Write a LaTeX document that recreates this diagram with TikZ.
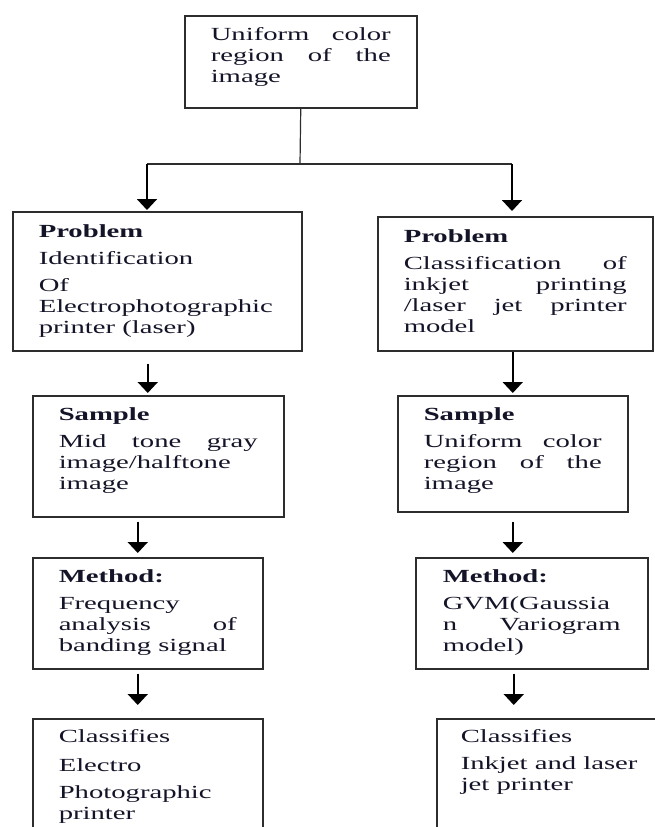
\documentclass[tikz,border=0pt]{standalone}
\usepackage{fontspec}
\setmainfont[FakeStretch=1.55]{Liberation Serif}
\usepackage{tikz}
\usetikzlibrary{arrows.meta}
\definecolor{ink}{RGB}{20,20,40}
\definecolor{edge}{RGB}{45,45,45}
\tikzset{box/.style = {draw=edge, line width=1.5pt, anchor=north west, inner ysep=0pt, align=justify, text=ink, font=\fontsize{18.5}{21}\selectfont}}
\tikzset{arr/.style = {line width=2pt, -{Triangle[width=20pt,length=11pt]}}}
\tikzset{link/.style = {draw=edge, line width=1.2pt}}

\begin{document}
\begin{tikzpicture}[x=1pt,y=-1pt]
        \useasboundingbox (0,0) rectangle (654,827);
        \node [box, inner xsep=26pt, text width=180pt, text height=25pt, text depth=67pt] (top) at (184,15) {Uniform color\linebreak region of the\linebreak image};
        \node [box, inner xsep=26pt, text width=237pt, text height=26pt, text depth=113pt] (leftProb) at (12,211) {\textbf{Problem}\\[6pt] Identification\\[6pt] Of\\ Electrophotographic\\ printer (laser)};
        \node [box, inner xsep=26pt, text width=223pt, text height=26pt, text depth=108pt] (rightProb) at (377,216) {\textbf{Problem}\\[6pt] Classification of\linebreak inkjet printing\linebreak /laser jet printer\linebreak model};
        \node [box, inner xsep=26pt, text width=199pt, text height=25pt, text depth=96pt] (leftSamp) at (32,395) {\textbf{Sample}\\[6pt] Mid tone gray\linebreak image/halftone\\ image};
        \node [box, inner xsep=26pt, text width=178pt, text height=25pt, text depth=91pt] (rightSamp) at (397,395) {\textbf{Sample}\\[6pt] Uniform color\linebreak region of the\linebreak image};
        \node [box, inner xsep=26pt, text width=178pt, text height=25pt, text depth=86pt] (leftMeth) at (32,557) {\textbf{Method:}\\[6pt] Frequency\\ analysis of\linebreak banding signal};
        \node [box, inner xsep=27pt, text width=178pt, text height=25pt, text depth=86pt] (rightMeth) at (415,557) {\textbf{Method:}\\[6pt] GVM(Gaussia\\ n Variogram\linebreak model)};
        \node [box, inner xsep=26pt, text width=178pt, text height=24pt, text depth=126pt] (leftCls) at (32,718) {Classifies\\[8pt] Electro\\[6pt] Photographic\\ printer};
        \node [box, inner xsep=24pt, text width=192pt, text height=24pt, text depth=126pt] (rightCls) at (436,718) {Classifies\\[6pt] Inkjet and laser\\ jet printer};
        % split below the top box
        \coordinate (split) at (300,164);
        \coordinate (lsplit) at (147,164);
        \coordinate (rsplit) at (512,164);
        \draw [link] (top.south) -- (split);
        \draw [link] (lsplit) -- (rsplit);
        \draw [arr, shorten >=1pt] (lsplit) -- (lsplit |- leftProb.north);
        \draw [arr, shorten >=5pt] (rsplit) -- (rsplit |- rightProb.north);
        % left column
        \draw [arr, shorten <=12pt, shorten >=2pt] ([xshift=-9.5pt]leftProb.south) -- ([xshift=-10.5pt]leftSamp.north);
        \draw [arr, shorten <=4pt, shorten >=4pt] ([xshift=-20.5pt]leftSamp.south) -- ([xshift=-10pt]leftMeth.north);
        \draw [arr, shorten <=4pt, shorten >=13pt] ([xshift=-10pt]leftMeth.south) -- ([xshift=-10pt]leftCls.north);
        % right column
        \draw [arr, shorten >=2pt] ([xshift=-2.5pt]rightProb.south) -- (rightSamp.north);
        \draw [arr, shorten <=9pt, shorten >=4pt] (rightSamp.south) -- ([xshift=-19pt]rightMeth.north);
        \draw [arr, shorten <=4pt, shorten >=13pt] ([xshift=-18pt]rightMeth.south) -- ([xshift=-43pt]rightCls.north);
    \end{tikzpicture}
\end{document}
